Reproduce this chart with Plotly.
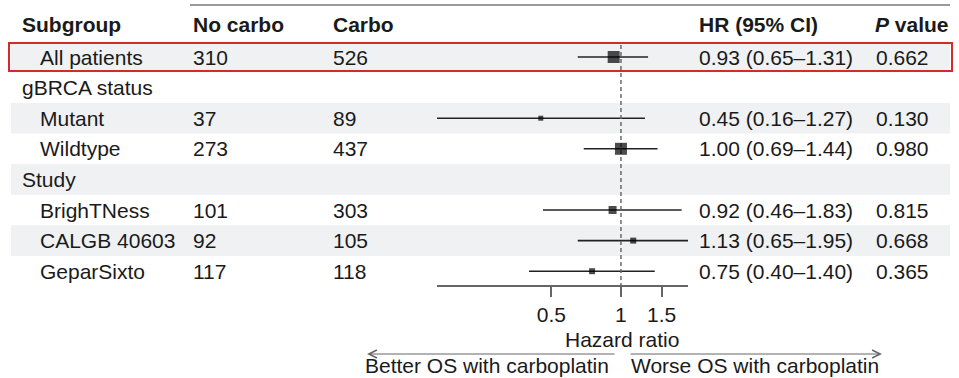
import math
import plotly.graph_objects as go

# ---------------- data ----------------
subgroups = ["All patients", "gBRCA status", "Mutant", "Wildtype", "Study",
             "BrighTNess", "CALGB 40603", "GeparSixto"]
is_header = [False, True, False, False, True, False, False, False]
no_carbo = [310, None, 37, 273, None, 101, 92, 117]
carbo = [526, None, 89, 437, None, 303, 105, 118]
hr = [0.93, None, 0.45, 1.00, None, 0.92, 1.13, 0.75]
hr_lo = [0.65, None, 0.16, 0.69, None, 0.46, 0.65, 0.40]
hr_hi = [1.31, None, 1.27, 1.44, None, 1.83, 1.95, 1.40]
p_values = ["0.662", "", "0.130", "0.980", "", "0.815", "0.668", "0.365"]
x_ticks = [0.5, 1, 1.5]
x_tick_labels = ["0.5", "1", "1.5"]
col_headers = ["Subgroup", "No carbo", "Carbo", "HR (95% CI)", "<i>P</i> value"]

# ---------------- style ----------------
W, H = 959, 378
FONT = "Liberation Sans, Arial, Helvetica, sans-serif"
FS = 21
TXT = "#1a1a1a"
SHADE = "#eff1f3"
marker_sizes = [12, 0, 5, 12, 0, 8, 6, 6]
row0_px, row_pitch = 57.0, 30.6


def px(x):
    return x / W


def py(y):
    return 1 - y / H


def row_of(ypix):
    return (ypix - row0_px) / row_pitch


y_top = row_of(0)
y_bot = row_of(H)

fig = go.Figure()

# CI lines
for i, (lo, hi) in enumerate(zip(hr_lo, hr_hi)):
    if lo is None:
        continue
    fig.add_trace(go.Scatter(x=[lo, hi], y=[i, i], mode="lines",
                             line=dict(color="#222222", width=1.6),
                             hoverinfo="skip"))

# reference dashed line at HR = 1
fig.add_trace(go.Scatter(x=[1, 1], y=[row_of(45), row_of(286)], mode="lines",
                         line=dict(color="#6a6a6a", width=1.5, dash="4px,3px"),
                         hoverinfo="skip"))

# point estimates
xs, ys, ss = [], [], []
for i, v in enumerate(hr):
    if v is None:
        continue
    xs.append(v)
    ys.append(i)
    ss.append(marker_sizes[i])
fig.add_trace(go.Scatter(x=xs, y=ys, mode="markers",
                         marker=dict(symbol="square", size=ss, color="#000000",
                                     line=dict(width=0))))

shapes = []
# shaded bands
for i in range(len(subgroups)):
    if i % 2 == 0:
        shapes.append(dict(type="rect", xref="paper", yref="y",
                           x0=px(11), x1=px(950), y0=i - 0.5, y1=i + 0.5,
                           fillcolor=SHADE, line=dict(width=0), layer="below"))
# top rule
shapes.append(dict(type="line", xref="paper", yref="paper",
                   x0=px(190), x1=px(950), y0=py(5), y1=py(5),
                   line=dict(color="#9a9a9a", width=2)))
# red highlight box around "All patients"
shapes.append(dict(type="rect", xref="paper", yref="y",
                   x0=px(9), x1=px(952), y0=-0.46, y1=0.46,
                   line=dict(color="#d42a2a", width=2),
                   fillcolor="rgba(0,0,0,0)", layer="above"))

ann = []


def text(x, y, s, yref="y", xanchor="left", bold=False, size=FS):
    ann.append(dict(x=x, y=y, xref="paper", yref=yref, text=("<b>%s</b>" % s) if bold else s,
                    showarrow=False, xanchor=xanchor, yanchor="middle",
                    font=dict(family=FONT, size=size, color=TXT)))


# column headers
hdr_x = [20, 191, 331, 697, 873]
for hx, h in zip(hdr_x, col_headers):
    text(px(hx), -1.05, h, bold=True)

for i, name in enumerate(subgroups):
    text(px(20 if is_header[i] else 38), i, name)
    if no_carbo[i] is not None:
        text(px(191), i, str(no_carbo[i]))
        text(px(331), i, str(carbo[i]))
        text(px(697), i, "%.2f (%.2f\u2013%.2f)" % (hr[i], hr_lo[i], hr_hi[i]))
        text(px(874), i, p_values[i])

# axis title and direction labels
text(px(622), py(339), "Hazard ratio", yref="paper", xanchor="center")
text(px(611), py(365), "Better OS with carboplatin", yref="paper", xanchor="right")
text(px(629), py(365), "Worse OS with carboplatin", yref="paper", xanchor="left")

# arrows
ann.append(dict(x=px(367), y=py(354), xref="paper", yref="paper", text="",
                showarrow=True, ax=616 - 367, ay=0, arrowhead=5, arrowsize=1.6,
                arrowwidth=1, arrowcolor="#666666"))
ann.append(dict(x=px(882), y=py(354), xref="paper", yref="paper", text="",
                showarrow=True, ax=629 - 882, ay=0, arrowhead=5, arrowsize=1.6,
                arrowwidth=1, arrowcolor="#666666"))

fig.update_layout(
    width=W, height=H, margin=dict(l=0, r=0, t=0, b=0),
    paper_bgcolor="white", plot_bgcolor="rgba(0,0,0,0)",
    showlegend=False, shapes=shapes, annotations=ann,
    xaxis=dict(type="log", domain=[px(437), px(688)],
               range=[math.log10(0.16), math.log10(1.95)],
               anchor="free", position=py(286),
               showline=True, linecolor="#666666", linewidth=1.5,
               ticks="outside", ticklen=10, tickwidth=1.5, tickcolor="#666666",
               tickvals=x_ticks, ticktext=x_tick_labels,
               tickfont=dict(family=FONT, size=FS, color=TXT),
               showgrid=False, zeroline=False, fixedrange=True),
    yaxis=dict(domain=[0, 1], range=[y_bot, y_top], visible=False,
               showgrid=False, zeroline=False, fixedrange=True),
)

fig.write_html("out.html", config={"displayModeBar": False},
               post_script="document.body.style.margin='0';document.body.style.padding='0';"
                           "document.documentElement.style.overflow='hidden';")
